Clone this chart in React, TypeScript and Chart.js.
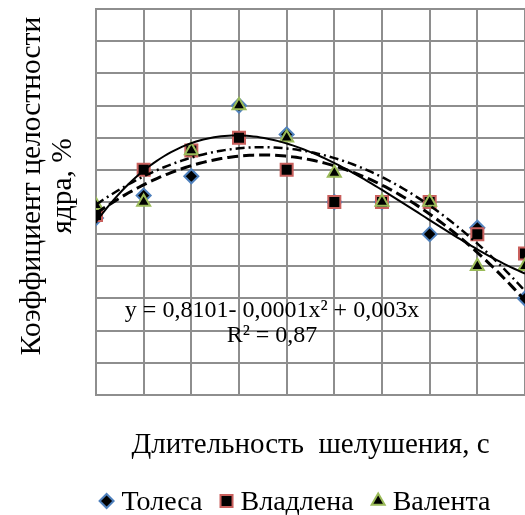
import { useEffect, useRef } from "react";
import { Chart, registerables } from "chart.js";
import { drawPoint } from "chart.js/helpers";

Chart.register(...registerables);

// ---- data ----
const durations = [0, 5, 10, 15, 20, 25, 30, 35, 40, 45]; // s
const tolesa = [0.805, 0.812, 0.818, 0.84, 0.831, 0.81, 0.81, 0.8, 0.802, 0.78];
const vladlena = [0.806, 0.82, 0.826, 0.83, 0.82, 0.81, 0.81, 0.81, 0.8, 0.794];
const valenta = [0.809, 0.81, 0.826, 0.84, 0.83, 0.819, 0.81, 0.81, 0.79, 0.79];
const seriesNames = ["Толеса", "Владлена", "Валента"];

const yTitleLines = ["Коэффициент целостности", "ядра, %"];
const xTitle = "Длительность  шелушения, с";
const equationLines = ["y = 0,8101- 0,0001x² + 0,003x", "R² = 0,87"];

const xMin = 0;
const xMax = 45;
const xStep = 5;
const yMin = 0.75;
const yMax = 0.87;
const yStep = 0.01;

// ---- styles ----
const FONT = "'Liberation Serif', 'Times New Roman', serif";
const GRID = "#8e8e8e";

function polyfit(xs: number[], ys: number[], degree: number): number[] {
  const n = degree + 1;
  const A: number[][] = [];
  for (let r = 0; r < n; r++) {
    const row: number[] = [];
    for (let c = 0; c < n; c++) {
      row.push(xs.reduce((s, x) => s + Math.pow(x, r + c), 0));
    }
    row.push(xs.reduce((s, x, i) => s + Math.pow(x, r) * ys[i], 0));
    A.push(row);
  }
  for (let i = 0; i < n; i++) {
    let p = i;
    for (let k = i + 1; k < n; k++) if (Math.abs(A[k][i]) > Math.abs(A[p][i])) p = k;
    [A[i], A[p]] = [A[p], A[i]];
    for (let k = i + 1; k < n; k++) {
      const f = A[k][i] / A[i][i];
      for (let c = i; c <= n; c++) A[k][c] -= f * A[i][c];
    }
  }
  const coef = new Array(n).fill(0);
  for (let i = n - 1; i >= 0; i--) {
    let s = A[i][n];
    for (let c = i + 1; c < n; c++) s -= A[i][c] * coef[c];
    coef[i] = s / A[i][i];
  }
  return coef;
}

function trendPoints(ys: number[], degree: number) {
  const coef = polyfit(durations, ys, degree);
  const pts: { x: number; y: number }[] = [];
  const first = durations[0];
  const last = durations[durations.length - 1];
  const steps = 120;
  for (let i = 0; i <= steps; i++) {
    const x = first + ((last - first) * i) / steps;
    const y = coef.reduce((s, c, k) => s + c * Math.pow(x, k), 0);
    pts.push({ x, y });
  }
  return pts;
}

const toPts = (ys: number[]) => durations.map((x, i) => ({ x, y: ys[i] }));

const overlayPlugin = {
  id: "overlayText",
  afterDraw(chart: any) {
    const ctx: CanvasRenderingContext2D = chart.ctx;
    ctx.save();
    ctx.fillStyle = "#000";
    // y axis title (two rotated lines)
    ctx.font = `29.5px ${FONT}`;
    ctx.textAlign = "center";
    ctx.textBaseline = "middle";
    yTitleLines.forEach((line, i) => {
      ctx.save();
      ctx.translate(32 + i * 31, 186);
      ctx.rotate(-Math.PI / 2);
      ctx.fillText(line, 0, 0);
      ctx.restore();
    });
    // regression annotation
    ctx.font = `24px ${FONT}`;
    equationLines.forEach((line, i) => {
      ctx.fillText(line, 272, 311 + i * 25);
    });
    // legend
    ctx.font = `28px ${FONT}`;
    ctx.textAlign = "left";
    ctx.textBaseline = "alphabetic";
    const metas = chart.data.datasets.filter((ds: any) => seriesNames.includes(ds.label));
    const gap = 8;
    const itemGap = 18;
    const items = metas.map((ds: any) => {
      const r = ds.pointRadius;
      const mw = ds.pointStyle === "rect" ? r * Math.SQRT2 : ds.pointStyle === "triangle" ? r * Math.sqrt(3) : r * 2;
      return { ds, mw, tw: ctx.measureText(ds.label).width };
    });
    const total = items.reduce((s: number, it: any) => s + it.mw + gap + it.tw, 0) + itemGap * (items.length - 1);
    let x = 295 - total / 2;
    const baseY = 510;
    const markY = 501;
    items.forEach((it: any) => {
      ctx.fillStyle = it.ds.pointBackgroundColor;
      ctx.strokeStyle = it.ds.pointBorderColor;
      ctx.lineWidth = it.ds.pointBorderWidth;
      drawPoint(ctx, { pointStyle: it.ds.pointStyle, radius: it.ds.pointRadius, borderWidth: it.ds.pointBorderWidth, rotation: 0 } as any, x + it.mw / 2, markY);
      x += it.mw + gap;
      ctx.fillStyle = "#000";
      ctx.fillText(it.ds.label, x, baseY);
      x += it.tw + itemGap;
    });
    ctx.restore();
  },
};

export default function App() {
  const ref = useRef<HTMLCanvasElement | null>(null);
  useEffect(() => {
    if (!ref.current) return;
    const pointBase = { type: "scatter", showLine: false, pointBorderWidth: 2, pointBackgroundColor: "#000" };
    const chart = new Chart(ref.current, {
      type: "scatter",
      data: {
        datasets: [
          {
            type: "line",
            label: "тренд Толеса",
            data: trendPoints(tolesa, 2),
            borderColor: "#000",
            borderWidth: 3,
            borderDash: [11, 5],
            pointRadius: 0,
            fill: false,
            order: 0,
          },
          {
            type: "line",
            label: "тренд Валента",
            data: trendPoints(valenta, 2),
            borderColor: "#000",
            borderWidth: 2.5,
            borderDash: [9, 4, 2, 4],
            pointRadius: 0,
            fill: false,
            order: 0,
          },
          {
            type: "line",
            label: "общий тренд",
            data: trendPoints(valenta, 3),
            borderColor: "#000",
            borderWidth: 2,
            pointRadius: 0,
            fill: false,
            order: 0,
          },
          {
            ...pointBase,
            label: seriesNames[0],
            data: toPts(tolesa),
            pointStyle: "rectRot",
            pointRadius: 7,
            pointBorderColor: "#4f81bd",
            order: 3,
          },
          {
            ...pointBase,
            label: seriesNames[1],
            data: toPts(vladlena),
            pointStyle: "rect",
            pointRadius: 8.5,
            pointBorderColor: "#c9605d",
            order: 2,
          },
          {
            ...pointBase,
            label: seriesNames[2],
            data: toPts(valenta),
            pointStyle: "triangle",
            pointRadius: 7.5,
            pointBorderColor: "#9bbb59",
            order: 1,
          },
        ] as any,
      },
      options: {
        animation: false,
        responsive: false,
        layout: { autoPadding: false, padding: { left: 96, top: 9, right: 0, bottom: 52.6 } },
        plugins: { legend: { display: false }, tooltip: { enabled: false } },
        scales: {
          x: {
            type: "linear",
            min: xMin,
            max: xMax,
            ticks: { display: false, stepSize: xStep },
            grid: { color: GRID, lineWidth: 2, drawTicks: false },
            border: { color: GRID, width: 2 },
            title: {
              display: true,
              text: xTitle,
              color: "#000",
              font: { family: FONT, size: 29 },
              padding: { top: 32.6, bottom: 0 },
            },
          },
          y: {
            type: "linear",
            min: yMin,
            max: yMax,
            ticks: { display: false, stepSize: yStep },
            grid: { color: GRID, lineWidth: 2, drawTicks: false },
            border: { color: GRID, width: 2 },
          },
        },
      },
      plugins: [overlayPlugin],
    } as any);
    return () => chart.destroy();
  }, []);
  return (
    <div style={{ position: "fixed", left: 0, top: 0, width: 525, height: 515, overflow: "hidden", background: "#fff" }}>
      <canvas ref={ref} width={525} height={515} style={{ display: "block" }} />
    </div>
  );
}
